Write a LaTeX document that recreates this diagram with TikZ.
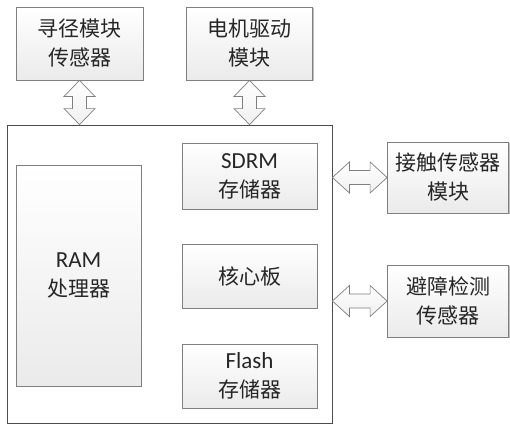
\documentclass[tikz,border=0pt]{standalone}
\usepackage{fontspec}
\setmainfont{Carlito}
\newfontfamily\cjk{Noto Sans CJK SC}
\usetikzlibrary{shadows,calc}
\definecolor{edge}{HTML}{7F7F7F}
\definecolor{txt}{HTML}{262626}
\newcommand{\latn}[1]{{\fontsize{23}{29}\selectfont #1}}
\tikzset{
  box/.style={draw=edge, line width=0.8pt, top color=white, bottom color=black!8,
    drop shadow={shadow xshift=1.2pt, shadow yshift=-1.2pt, opacity=0.25, fill=black},
    align=center, text=txt, inner sep=0pt,
    font=\fontsize{21}{29}\selectfont},
  frame/.style={draw=black!70, line width=0.8pt, fill=white, inner sep=0pt},
  fatarrow/.style={draw=edge, line width=0.7pt, top color=white, bottom color=black!6},
  fatv/.style={to path={let \p1=(\tikztostart), \p2=(\tikztotarget) in
    (\x1,\y1) -- (\x1+15.5pt,\y1-16pt) -- (\x1+7pt,\y1-16pt) -- (\x1+7pt,\y2+16pt)
    -- (\x1+15.5pt,\y2+16pt) -- (\x1,\y2) -- (\x1-15.5pt,\y2+16pt) -- (\x1-7pt,\y2+16pt)
    -- (\x1-7pt,\y1-16pt) -- (\x1-15.5pt,\y1-16pt) -- cycle}},
  fath/.style={to path={let \p1=(\tikztostart), \p2=(\tikztotarget) in
    (\x1,\y1) -- (\x1+17pt,\y1+15.5pt) -- (\x1+17pt,\y1+7pt) -- (\x2-17pt,\y1+7pt)
    -- (\x2-17pt,\y1+15.5pt) -- (\x2,\y1) -- (\x2-17pt,\y1-15.5pt) -- (\x2-17pt,\y1-7pt)
    -- (\x1+17pt,\y1-7pt) -- (\x1+17pt,\y1-15.5pt) -- cycle}}
}
\begin{document}
\begin{tikzpicture}[x=1pt,y=-1pt]
\useasboundingbox (0,0) rectangle (510,426);
% outer frame
\node[frame, minimum width=325pt, minimum height=298pt] (main) at (169.5,274) {};
% top boxes
\node[box, minimum width=127pt, minimum height=73pt] (t1) at (79.5,43.5) {\cjk 寻径模块\\\cjk 传感器};
\node[box, minimum width=126pt, minimum height=73pt] (t2) at (249.5,43.5) {\cjk 电机驱动\\\cjk 模块};
% inner boxes
\node[box, minimum width=125pt, minimum height=221pt] (ram) at (78.5,275.5) {\latn{RAM}\\\cjk 处理器};
\node[box, minimum width=135pt, minimum height=66pt] (sdrm) at (249.5,176) {\latn{SDRM}\\\cjk 存储器};
\node[box, minimum width=135pt, minimum height=64pt] (core) at (249.5,276) {\cjk 核心板};
\node[box, minimum width=135pt, minimum height=64pt] (flash) at (249.5,376) {\latn{Flash}\\\cjk 存储器};
% right boxes
\node[box, minimum width=121pt, minimum height=71pt] (r1) at (448,177.5) {\cjk 接触传感器\\\cjk 模块};
\node[box, minimum width=121pt, minimum height=72pt] (r2) at (448,301) {\cjk 避障检测\\\cjk 传感器};
% connectors
\path[fatarrow] (t1.south) to[fatv] (t1.south |- main.north);
\path[fatarrow] (t2.south) to[fatv] (t2.south |- main.north);
\path[fatarrow] (r1.west -| main.east) to[fath] (r1.west);
\path[fatarrow] (r2.west -| main.east) to[fath] (r2.west);
\end{tikzpicture}
\end{document}
